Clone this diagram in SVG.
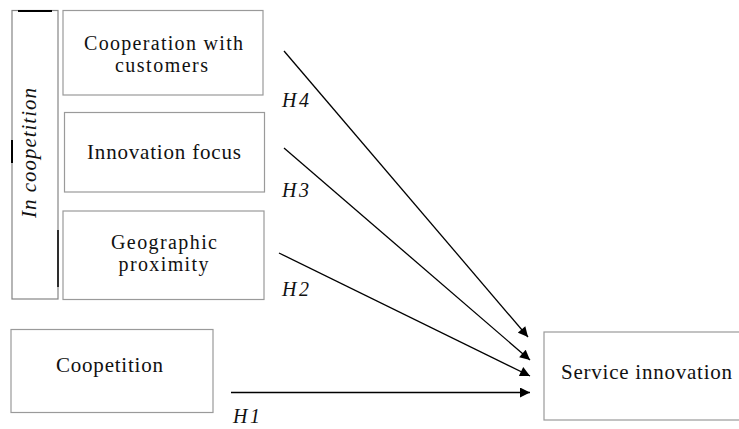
<svg xmlns="http://www.w3.org/2000/svg" width="739" height="429" viewBox="0 0 739 429">
<defs>
<style>
.box{fill:#fff;stroke:#9a9a9a;stroke-width:1.2}
.frame{fill:none;stroke:#858585;stroke-width:1.2}
.t{font-family:"Liberation Serif","Times New Roman",serif;font-size:20px;fill:#111;text-anchor:middle}
.it{font-family:"Liberation Serif","Times New Roman",serif;font-size:20px;font-style:italic;fill:#111}
.edge{stroke:#000;stroke-width:1.3;fill:none;marker-end:url(#ah)}
.mark{stroke:#000;fill:none}
</style>
<marker id="ah" viewBox="0 0 10 10" refX="10" refY="5" markerWidth="11" markerHeight="10" markerUnits="userSpaceOnUse" orient="auto">
<path d="M0,0 L10,5 L0,10 Z" fill="#000"/>
</marker>
</defs>
<rect width="739" height="429" fill="#fff"/>
<g id="in-coopetition">
<rect class="frame" x="12" y="10.5" width="46" height="288.5"/>
<line class="mark" x1="18" y1="11" x2="52" y2="11" stroke-width="2.2"/>
<line class="mark" x1="12" y1="140" x2="12" y2="163" stroke-width="2"/>
<line class="mark" x1="58" y1="230" x2="58" y2="287" stroke-width="1.5"/>
<text class="it" transform="translate(36,153) rotate(-90)" text-anchor="middle" textLength="130" lengthAdjust="spacing" style="font-size:21px">In coopetition</text>
</g>
<g id="cooperation-customers">
<rect class="box" x="63" y="10.5" width="200" height="84.5"/>
<text class="t" x="163.5" y="49.5" textLength="159" lengthAdjust="spacing">Cooperation with</text>
<text class="t" x="161.5" y="72" textLength="93" lengthAdjust="spacing">customers</text>
</g>
<g id="innovation-focus">
<rect class="box" x="64.5" y="112.5" width="200" height="79.5"/>
<text class="t" x="164" y="159" textLength="154" lengthAdjust="spacing" style="font-size:21px">Innovation focus</text>
</g>
<g id="geographic-proximity">
<rect class="box" x="63" y="211" width="201" height="88.5"/>
<text class="t" x="164" y="249" textLength="106" lengthAdjust="spacing">Geographic</text>
<text class="t" x="163.5" y="271" textLength="90" lengthAdjust="spacing">proximity</text>
</g>
<g id="coopetition">
<rect class="box" x="11" y="329.5" width="202" height="83"/>
<text class="t" x="109.5" y="372" textLength="107" lengthAdjust="spacing" style="font-size:21px">Coopetition</text>
</g>
<g id="service-innovation">
<rect class="box" x="544" y="332" width="200" height="88"/>
<text class="t" x="646.5" y="379" textLength="171" lengthAdjust="spacing" style="font-size:21px">Service innovation</text>
</g>
<g id="connectors">
<line class="edge" x1="284" y1="51" x2="528" y2="337"/>
<line class="edge" x1="284" y1="148" x2="530" y2="360"/>
<line class="edge" x1="279" y1="253" x2="530" y2="376"/>
<line class="edge" x1="231" y1="392.5" x2="530" y2="392.5"/>
<text class="it" x="282" y="107" textLength="27" lengthAdjust="spacing">H4</text>
<text class="it" x="282" y="197" textLength="27" lengthAdjust="spacing">H3</text>
<text class="it" x="282" y="296" textLength="27" lengthAdjust="spacing">H2</text>
<text class="it" x="233" y="423" textLength="27" lengthAdjust="spacing">H1</text>
</g>
</svg>
